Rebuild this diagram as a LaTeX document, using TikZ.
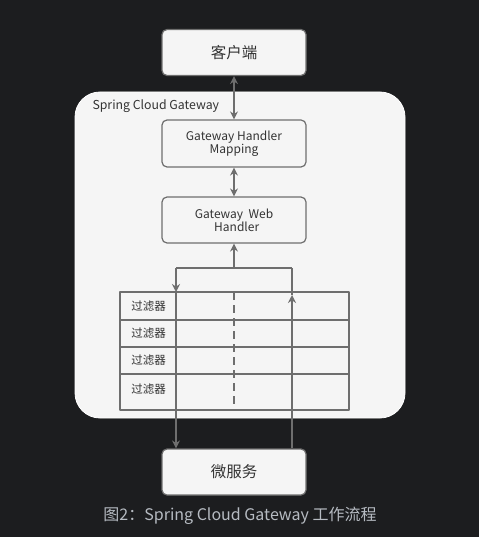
\documentclass[tikz,border=0pt]{standalone}
\usepackage{fontspec}
\setmainfont{Noto Sans CJK SC}
\usetikzlibrary{arrows.meta}
\definecolor{bgdark}{HTML}{1C1D1F}
\definecolor{boxfill}{HTML}{F5F5F5}
\definecolor{linegray}{HTML}{6E6E6E}
\definecolor{txtgray}{HTML}{333333}
\definecolor{capgray}{HTML}{B6BBC2}
\tikzset{
  box/.style={draw=linegray, line width=1.2pt, fill=boxfill, rounded corners=5pt,
    minimum width=144pt, minimum height=46pt, text=txtgray, align=center,
    font=\fontsize{12}{11.5}\selectfont},
  flow/.style={draw=linegray, line width=1.5pt},
  filterlbl/.style={text=txtgray, font=\fontsize{11.5}{12}\selectfont}
}
\begin{document}
\begin{tikzpicture}[x=1pt, y=-1pt, line join=round, >={Stealth[length=8pt,width=8pt]}]
\def\tabL{120} \def\tabR{349} \def\tabT{292} \def\tabB{410}
\def\colL{176} \def\colM{234} \def\colR{292}
\fill[bgdark] (0,0) rectangle (479,537);
\useasboundingbox (0,0) rectangle (479,537);
% outer gateway frame
\filldraw[fill=boxfill, draw=white, line width=0.8pt, rounded corners=25pt] (75,92) rectangle (405,418);
\node[anchor=west, text=txtgray, font=\fontsize{12.3}{12}\selectfont] (scg) at (89,106) {Spring Cloud Gateway};
% boxes
\node[box, font=\fontsize{15.5}{15}\selectfont] (client) at (\colM,52.5) {客户端};
\node[box, minimum height=47pt] (ghm) at (\colM,143.5) {Gateway Handler\\Mapping};
\node[box] (gwh) at (\colM,220) {Gateway\ \ Web\\\ \ Handler};
\node[box, font=\fontsize{15.5}{15}\selectfont] (ms) at (\colM,472) {微服务};
% filter table
\draw[linegray, line width=1.2pt] (\tabL,\tabT) rectangle (\tabR,\tabB);
\foreach \y in {320,347,374} \draw[linegray, line width=1.2pt] (\tabL,\y) -- (\tabR,\y);
\draw[linegray, line width=1.2pt, dash pattern=on 8pt off 5pt] (\colM,\tabT) -- (\colM,\tabB);
\foreach \i/\y in {1/306,2/333.5,3/360.5,4/389}
  \node[filterlbl] (f\i) at (148.5,\y) {过滤器};
% connectors
\coordinate (split) at (\colM,268);
\coordinate (lft) at (\colL,268);
\coordinate (rgt) at (\colR,268);
\draw[flow,<->] (client) -- (ghm);
\draw[flow,<->] (ghm) -- (gwh);
\draw[flow,->] (split) -- (gwh);
\draw[flow] (lft) -- (rgt);
\draw[flow,->] (lft) -- (\colL,\tabT);
\draw[flow,->] (\colL,\tabT) -- (ms.north -| lft);
\draw[flow,->] (ms.north -| rgt) -- (\colR,\tabT+3);
\draw[flow] (\colR,\tabT+3) -- (rgt);
% caption
\node[text=capgray, font=\fontsize{16}{16}\selectfont] (cap) at (240,516) {图2：Spring Cloud Gateway 工作流程};
\end{tikzpicture}
\end{document}
